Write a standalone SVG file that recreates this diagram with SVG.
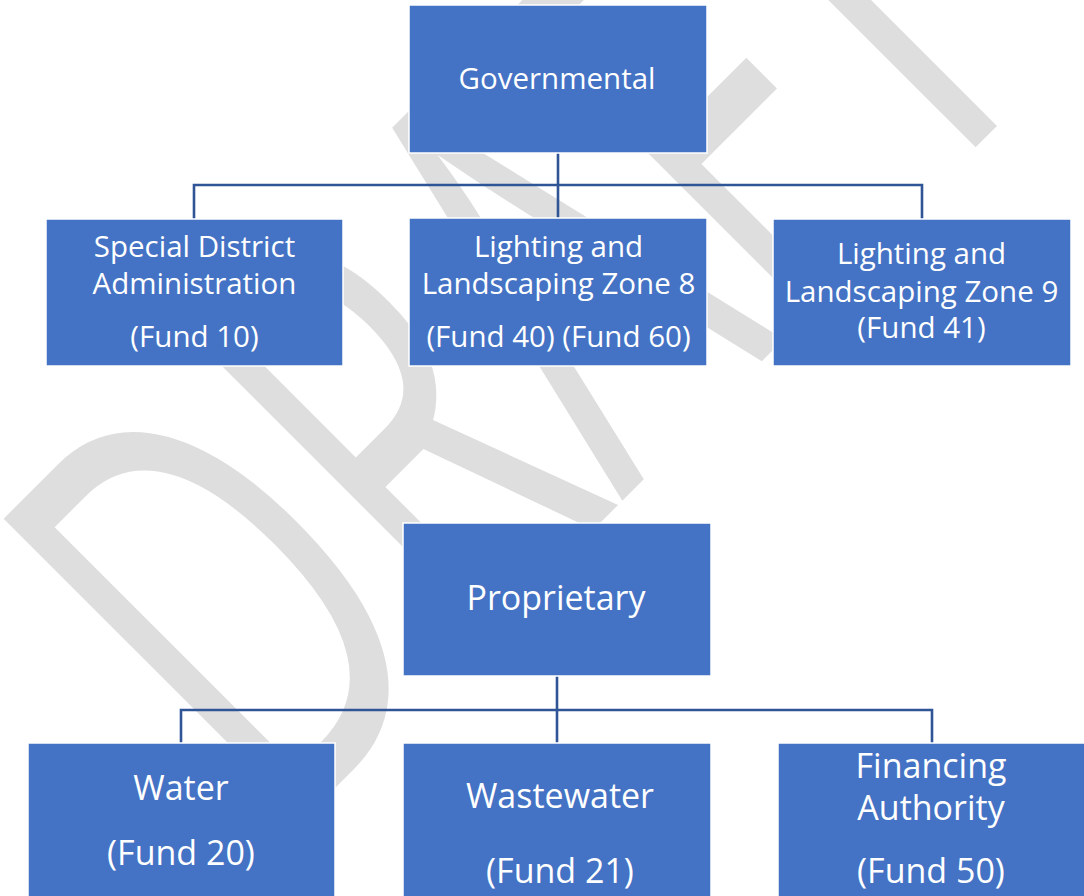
<svg xmlns="http://www.w3.org/2000/svg" width="1084" height="896" viewBox="0 0 1084 896">
<style>
.box{fill:#4472C4;stroke:#ffffff;stroke-width:1.5}
.t{font-family:"Open Sans","Noto Sans","Liberation Sans",sans-serif;fill:#ffffff;text-anchor:middle}
.s2{font-size:29.5px}
.s4{font-size:34px}
.conn{fill:none;stroke:#2F5597;stroke-width:2.6}
.wm{font-family:"Open Sans","Noto Sans","Liberation Sans",sans-serif;font-size:595px;fill:#dedede}
</style>
<rect x="0" y="0" width="1084" height="896" fill="#ffffff"/>
<g id="watermark">
<text class="wm" transform="translate(279,844) rotate(-45)" x="0" y="0" textLength="1100" lengthAdjust="spacingAndGlyphs">DRAFT</text>
</g>
<g id="connectors">
<path class="conn" d="M558 153 V185 M194 219 V185 H922 V219 M558 185 V219"/>
<path class="conn" d="M557 676 V743 M181 743 V710 H932 V743"/>
</g>
<g id="governmental">
<rect class="box" x="409" y="5" width="298" height="148"/>
<text class="t s2" x="557" y="89">Governmental</text>
</g>
<g id="special-district">
<rect class="box" x="46" y="219" width="297" height="147"/>
<text class="t s2" x="194.5" y="257">Special District</text>
<text class="t s2" x="194.5" y="294">Administration</text>
<text class="t s2" x="194.5" y="347">(Fund 10)</text>
</g>
<g id="llz8">
<rect class="box" x="409" y="218" width="298" height="148"/>
<text class="t s2" x="558.5" y="257">Lighting and</text>
<text class="t s2" x="558.5" y="294">Landscaping Zone 8</text>
<text class="t s2" x="558.5" y="347">(Fund 40) (Fund 60)</text>
</g>
<g id="llz9">
<rect class="box" x="773" y="219" width="298" height="147"/>
<text class="t s2" x="921.5" y="264">Lighting and</text>
<text class="t s2" x="921.5" y="302">Landscaping Zone 9</text>
<text class="t s2" x="921.5" y="338">(Fund 41)</text>
</g>
<g id="proprietary">
<rect class="box" x="403" y="523" width="308" height="153"/>
<text class="t s4" x="556" y="610">Proprietary</text>
</g>
<g id="water">
<rect class="box" x="28" y="743" width="307" height="160"/>
<text class="t s4" x="181" y="800">Water</text>
<text class="t s4" x="181" y="865">(Fund 20)</text>
</g>
<g id="wastewater">
<rect class="box" x="403" y="743" width="308" height="160"/>
<text class="t s4" x="560" y="808">Wastewater</text>
<text class="t s4" x="560" y="883">(Fund 21)</text>
</g>
<g id="financing">
<rect class="box" x="778" y="743" width="312" height="160"/>
<text class="t s4" x="931" y="778">Financing</text>
<text class="t s4" x="931" y="820">Authority</text>
<text class="t s4" x="931" y="883">(Fund 50)</text>
</g>
</svg>
